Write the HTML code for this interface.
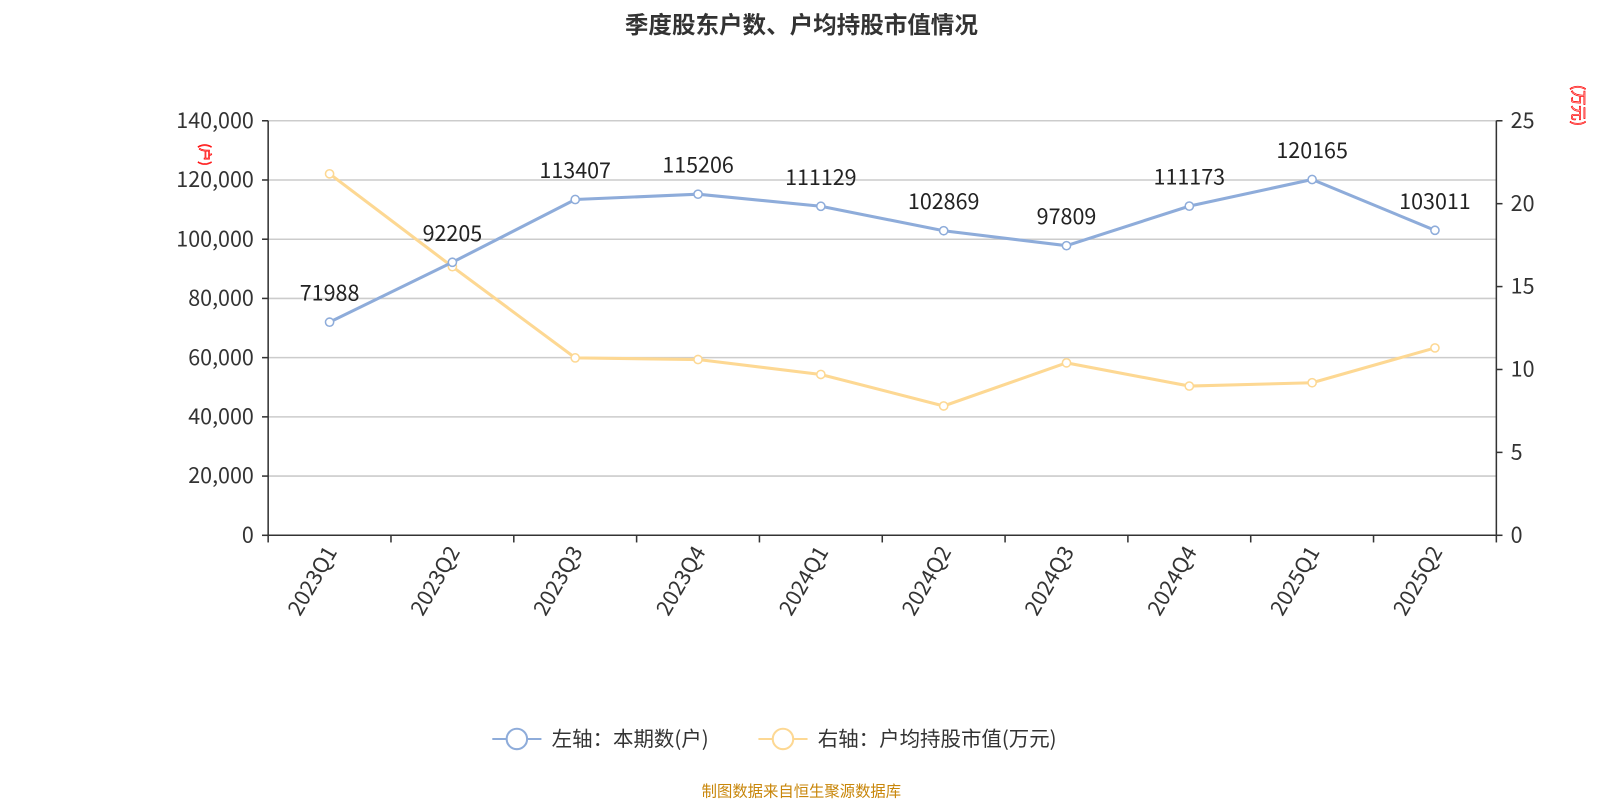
<!DOCTYPE html>
<html><head><meta charset="utf-8"><style>
body{margin:0;background:#fff;font-family:"Noto Sans CJK SC","Liberation Sans",sans-serif;}
</style></head><body>
<svg width="1600" height="800" xmlns="http://www.w3.org/2000/svg" font-family="Noto Sans CJK SC, Liberation Sans, sans-serif">
<g transform="scale(1.0235)">
<text x="783" y="32" text-anchor="middle" font-size="23" font-weight="bold" fill="#333">季度股东户数、户均持股市值情况</text>
<g id="grid"></g><g id="axes"></g><g id="series"></g>
<text transform="translate(196,151) rotate(90)" font-size="13" fill="#fff" stroke="#f00" stroke-width="0.7" text-anchor="middle">(户)</text>
<text transform="translate(1537,103) rotate(90)" font-size="15" fill="#fff" stroke="#f00" stroke-width="0.7" text-anchor="middle">(万元)</text>
<g>
<line x1="481" y1="722" x2="529" y2="722" stroke="#8eacda" stroke-width="2"/>
<circle cx="505" cy="722" r="10" fill="#fff" stroke="#8eacda" stroke-width="2"/>
<text x="539" y="729" font-size="20" fill="#333">左轴：本期数(户)</text>
<line x1="741" y1="722" x2="789" y2="722" stroke="#fdd893" stroke-width="2"/>
<circle cx="765" cy="722" r="10" fill="#fff" stroke="#fdd893" stroke-width="2"/>
<text x="799" y="729" font-size="20" fill="#333">右轴：户均持股市值(万元)</text>
</g>
<text x="783" y="778" text-anchor="middle" font-size="15" fill="#c8860a">制图数据来自恒生聚源数据库</text>
</g>
</svg>
<script>
const categories=["2023Q1","2023Q2","2023Q3","2023Q4","2024Q1","2024Q2","2024Q3","2024Q4","2025Q1","2025Q2"];
const holders=[71988,92205,113407,115206,111129,102869,97809,111173,120165,103011];
const avgValue=[21.8,16.2,10.7,10.6,9.7,7.8,10.4,9.0,9.2,11.3];
const leftTicks=[0,20000,40000,60000,80000,100000,120000,140000];
const rightTicks=[0,5,10,15,20,25];
const NS="http://www.w3.org/2000/svg";
const L=262,R=1462,T=118,B=523;
const band=(R-L)/categories.length;
const x=i=>L+band*(i+0.5);
const yL=v=>B-(v/140000)*(B-T);
const yR=v=>B-(v/25)*(B-T);
function mk(tag,attrs,parent,text){const e=document.createElementNS(NS,tag);for(const k in attrs)e.setAttribute(k,attrs[k]);if(text!==undefined)e.textContent=text;parent.appendChild(e);return e;}
const grid=document.getElementById('grid'),axes=document.getElementById('axes'),ser=document.getElementById('series');
leftTicks.forEach(v=>{
 const y=yL(v);
 if(v>0){const g=mk('line',{x1:L,x2:R,y1:y,y2:y,stroke:'#ccc','stroke-width':1.5},grid);
 
 }
 mk('line',{x1:L-6,x2:L,y1:y,y2:y,stroke:'#333','stroke-width':1.5},axes);
 const t=mk('text',{x:L-14,y:y+7,'text-anchor':'end','font-size':21,fill:'#333'},axes,v.toLocaleString('en-US'));
 
 
});
rightTicks.forEach(v=>{
 const y=yR(v);
 mk('line',{x1:R,x2:R+6,y1:y,y2:y,stroke:'#333','stroke-width':1.5},axes);
 const t=mk('text',{x:R+14,y:y+7,'font-size':21,fill:'#333'},axes,String(v));
 
 
});
mk('line',{x1:L,x2:L,y1:T,y2:B,stroke:'#333','stroke-width':1.5},axes);
mk('line',{x1:R,x2:R,y1:T,y2:B,stroke:'#333','stroke-width':1.5},axes);
mk('line',{x1:L,x2:R,y1:B,y2:B,stroke:'#333','stroke-width':1.5},axes);
for(let i=0;i<=categories.length;i++){const xx=L+band*i;mk('line',{x1:xx,x2:xx,y1:B,y2:B+7,stroke:'#333','stroke-width':1.5},axes);}
categories.forEach((c,i)=>{
 const t=mk('text',{transform:`translate(${x(i)+8},${B+16}) rotate(-60)`,'text-anchor':'end','font-size':21,fill:'#333'},axes,c);
 
 
});
function line(vals,yf,color,name,labels){
 const p=mk('polyline',{points:vals.map((v,i)=>x(i)+','+yf(v)).join(' '),fill:'none',stroke:color,'stroke-width':3},ser);
 
 
 vals.forEach((v,i)=>{
  const c=mk('circle',{cx:x(i),cy:yf(v),r:4,fill:'#fff',stroke:color,'stroke-width':1.5},ser);
  
  
  if(labels){const t=mk('text',{x:x(i),y:yf(v)-21,'text-anchor':'middle','font-size':21,fill:'#222'},ser,String(v));
  
  }
 });
}
line(avgValue,yR,'#fdd893','avg-value',false);
line(holders,yL,'#8eacda','holders',true);
</script>
</body></html>
